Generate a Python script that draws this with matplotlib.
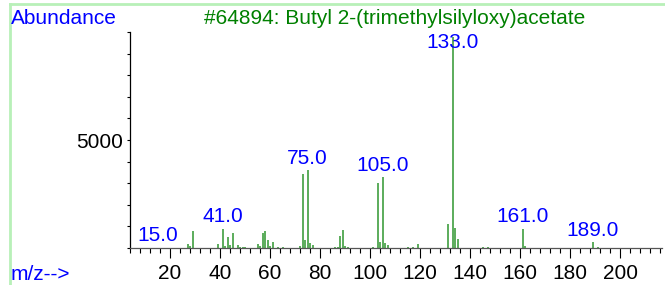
import numpy as np
import matplotlib
matplotlib.use('Agg')
import matplotlib.pyplot as plt
from matplotlib.lines import Line2D
from matplotlib.ticker import MultipleLocator, FixedLocator

# spectrum (m/z, abundance)
mz = [15, 27, 28, 29, 31, 39, 41, 42, 43, 44, 45, 47, 48, 49, 50,
      55, 56, 57, 58, 59, 60, 61, 63, 65, 72, 73, 74, 75, 76, 77,
      86, 87, 88, 89, 90, 91, 101, 103, 104, 105, 106, 107, 115, 117, 119,
      131, 133, 134, 135, 145, 147, 161, 162, 173, 189, 191]
abundance = [20, 200, 100, 770, 20, 170, 900, 110, 510, 150, 680, 150, 30, 30, 30,
             180, 110, 710, 770, 370, 90, 280, 30, 30, 110, 3420, 370, 3600, 230, 140,
             30, 30, 560, 830, 80, 50, 40, 3000, 290, 3270, 230, 130, 30, 30, 170,
             1110, 9750, 940, 400, 30, 30, 900, 70, 20, 290, 40]

labelled = [15, 41, 75, 105, 133, 161, 189]

title = "#64894: Butyl 2-(trimethylsilyloxy)acetate"

plt.rcParams['font.family'] = ['Liberation Sans', 'DejaVu Sans']
plt.rcParams['font.size'] = 15

fig = plt.figure(figsize=(6.65, 2.85), dpi=100)
ax = fig.add_axes([130 / 665, 37 / 285, 532 / 665, 216 / 285])

ax.vlines(mz, 0, abundance, color='#2f962f', linewidth=1.1)

lookup = dict(zip(mz, abundance))
for m in labelled:
    y = min(lookup[m], 9000)
    ax.annotate(f"{m:.1f}", (m, y), xytext=(0, 1.5), textcoords='offset points',
                ha='center', va='bottom', color='#0000ff', fontsize=15)

ax.set_xlim(4, 216.8)
ax.set_ylim(0, 10000)

ax.xaxis.set_major_locator(MultipleLocator(20))
ax.xaxis.set_minor_locator(MultipleLocator(4))
ax.yaxis.set_major_locator(FixedLocator([5000]))
ax.yaxis.set_minor_locator(MultipleLocator(1000))
ax.set_xticks(range(20, 201, 20))

ax.tick_params(axis='x', which='major', length=7.2, width=0.8, pad=4, labelsize=15)
ax.tick_params(axis='x', which='minor', length=3.6, width=0.8)
ax.tick_params(axis='y', which='both', length=2, width=0.8, pad=3, labelsize=15)

for side in ['top', 'right']:
    ax.spines[side].set_visible(False)
ax.spines['left'].set_linewidth(0.9)
ax.spines['bottom'].set_linewidth(0.9)
ax.spines['bottom'].set_color('#555555')
ax.patch.set_alpha(0)

fig.text(11 / 665, 1 - 18 / 285, "Abundance", color='#0000ff', ha='left', va='center', fontsize=15)
fig.text(395 / 665, 1 - 18 / 285, title, color='#008000', ha='center', va='center', fontsize=15)
fig.text(11 / 665, 1 - 275 / 285, "m/z-->", color='#0000ff', ha='left', va='center', fontsize=15)

# light green frame lines
fig.add_artist(Line2D([10 / 665, 1], [1 - 4 / 285, 1 - 4 / 285], color='#b8f0b8', linewidth=2))
fig.add_artist(Line2D([10 / 665, 10 / 665], [0, 1 - 4 / 285], color='#b8f0b8', linewidth=2))

fig.savefig('out.png', dpi=100)
